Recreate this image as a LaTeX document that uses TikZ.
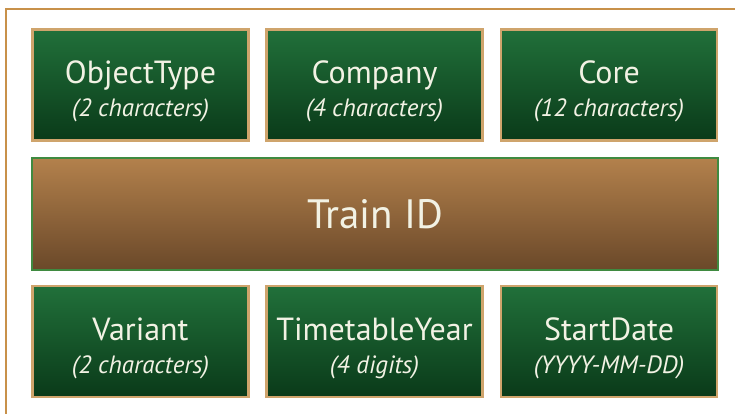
\documentclass[tikz,border=0pt]{standalone}
\usepackage{fontspec}
\setmainfont{PT Sans}
\usepackage{xcolor}
\definecolor{frametan}{HTML}{C8914A}
\definecolor{boxtan}{HTML}{CFA46C}
\definecolor{greentop}{HTML}{21703A}
\definecolor{greenbot}{HTML}{0A3A19}
\definecolor{browntop}{HTML}{B3814C}
\definecolor{brownbot}{HTML}{6A4829}
\definecolor{idgreen}{HTML}{3F8A40}
\definecolor{labeltext}{HTML}{F2F2E4}
\newcommand{\fieldtext}[2]{\rule{0pt}{36pt}#1\\[-3pt]{\itshape\fontsize{25}{28}\selectfont #2}}
\begin{document}
\begin{tikzpicture}[x=1pt,y=1pt,
  fieldbox/.style={draw=boxtan,line width=2.6pt,top color=greentop,bottom color=greenbot,
    minimum width=216pt,minimum height=111pt,inner sep=0pt,align=center,
    text=labeltext,font=\fontsize{32}{36}\selectfont},
  idbox/.style={draw=idgreen,line width=2.6pt,top color=browntop,bottom color=brownbot,
    minimum width=686pt,minimum height=112pt,inner sep=0pt,
    text=labeltext,font=\fontsize{41}{44}\selectfont}]
\useasboundingbox (0,0) rectangle (735,413);
\fill[white] (0,0) rectangle (735,413);
\clip (0,0) rectangle (735,413);
\draw[frametan,line width=2.4pt] (6,-10) rectangle (750,404);
% top row
\node[fieldbox] (objtype) at (140.5,328) {\fieldtext{ObjectType}{(2 characters)}};
\node[fieldbox] (company) at (374.5,328) {\fieldtext{Company}{(4 characters)}};
\node[fieldbox] (core) at (609,328) {\fieldtext{Core}{(12 characters)}};
% middle
\node[idbox] (trainid) at (375,199) {Train ID};
% bottom row
\node[fieldbox] (variant) at (140.5,71.5) {\fieldtext{Variant}{(2 characters)}};
\node[fieldbox] (ttyear) at (374.5,71.5) {\fieldtext{TimetableYear}{(4 digits)}};
\node[fieldbox] (startdate) at (609,71.5) {\fieldtext{StartDate}{(YYYY-MM-DD)}};
\end{tikzpicture}
\end{document}
